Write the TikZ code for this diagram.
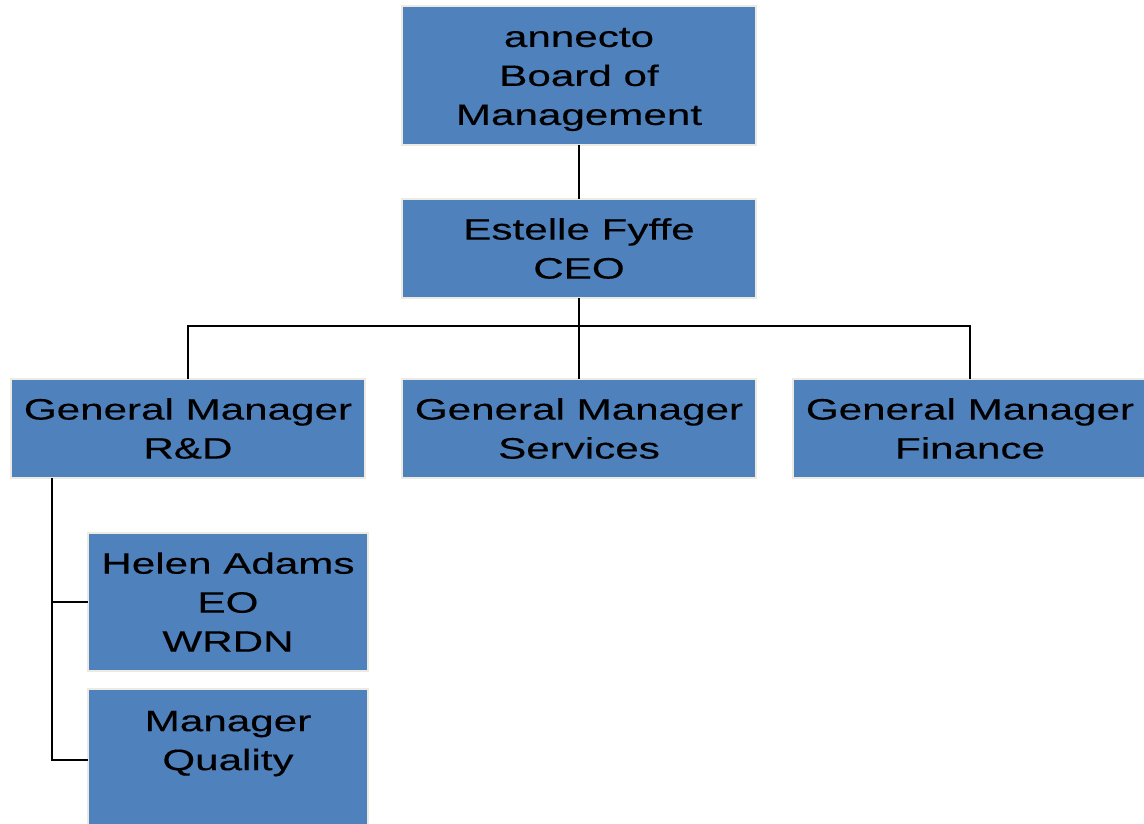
\documentclass[tikz,border=0pt]{standalone}
\usepackage{fontspec}
\setmainfont{Liberation Sans}[FakeStretch=1.43,FakeBold=0.3]
\definecolor{boxfill}{HTML}{4F81BD}
\definecolor{boxedge}{HTML}{EDEBE1}
\tikzset{
  orgbox/.style={rectangle, fill=boxfill, draw=boxedge, line width=2pt,
    inner sep=0pt, outer sep=0pt, align=center,
    font=\fontsize{29.5}{39}\selectfont},
  link/.style={draw=black, line width=2.2pt}
}
\begin{document}
\begin{tikzpicture}[x=1pt,y=-1pt]
\useasboundingbox (0,0) rectangle (1144,823);
\node[orgbox, minimum width=354pt, minimum height=139pt] (board) at (579,75.5) {\rule{0pt}{27pt}annecto\\Board of\\Management};
\node[orgbox, minimum width=354pt, minimum height=99pt] (ceo) at (579,248.5) {Estelle Fyffe\\CEO};
\node[orgbox, minimum width=354pt, minimum height=99pt] (gm1) at (188,428.5) {General Manager\\R\&D};
\node[orgbox, minimum width=354pt, minimum height=99pt] (gm2) at (579,428.5) {General Manager\\Services};
\node[orgbox, minimum width=354pt, minimum height=99pt] (gm3) at (970,428.5) {General Manager\\Finance};
\node[orgbox, minimum width=280pt, minimum height=138pt] (helen) at (228,602) {Helen Adams\\EO\\WRDN};
\node[orgbox, minimum width=280pt, minimum height=138pt] (mq) at (228,758) {Manager\\Quality\\[-4pt]\mbox{}};
\coordinate (bus) at (579,326);
\coordinate (spine) at (52,478);
\draw[link] (board.south) -- (ceo.north);
\draw[link] (ceo.south) -- (gm2.north);
\draw[link] (gm1.north) |- (bus) -| (gm3.north);
\draw[link] (spine) |- (helen.west);
\draw[link] (spine) |- ([yshift=-2pt]mq.west);
\end{tikzpicture}
\end{document}
